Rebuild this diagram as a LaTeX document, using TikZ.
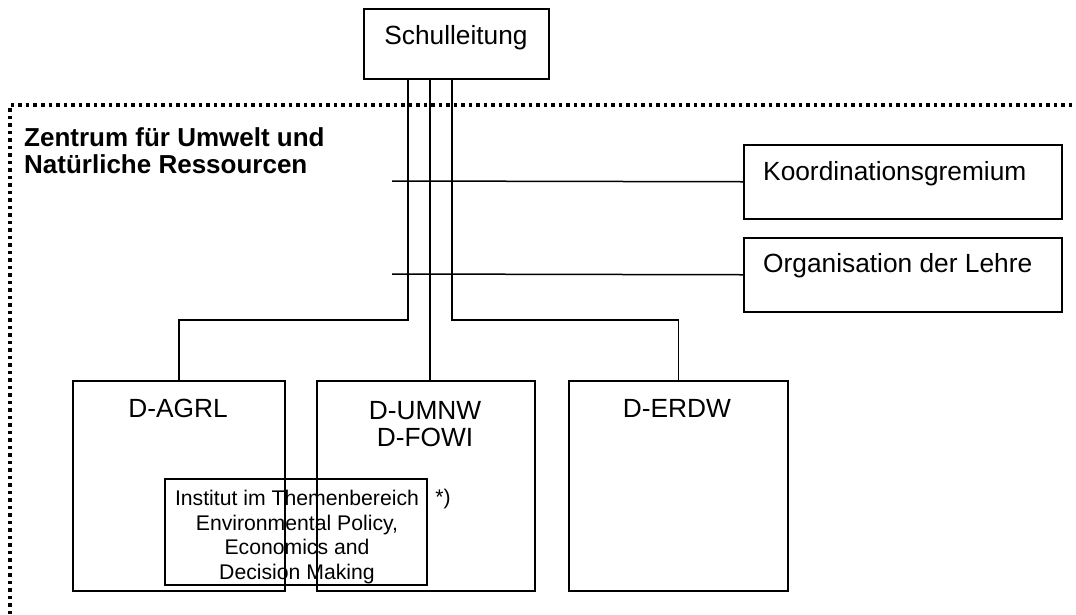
\documentclass[tikz,border=0pt]{standalone}
\usepackage{fontspec}
\setmainfont{Liberation Sans}
\begin{document}
\begin{tikzpicture}[x=1pt,y=-1pt,
  box/.style={draw=black,line width=1.5pt,inner sep=0pt,anchor=north west},
  conn/.style={draw=black,line width=1.5pt},
  lbl/.style={inner sep=0pt,font=\fontsize{26.3}{27}\selectfont},
  small/.style={inner sep=0pt,font=\fontsize{21.2}{24.6}\selectfont,align=center},
  border/.style={draw=black,line width=3.5pt,dash pattern=on 3.5pt off 4pt}]
\useasboundingbox (0,0) rectangle (1076,614);
% dotted frame
\draw[border] (10,614) -- (10,105) -- (1076,105);
% boxes
\node[box,minimum width=185pt,minimum height=70pt] (sl) at (363,8) {};
\node[box,minimum width=318pt,minimum height=74pt] (kg) at (743,144) {};
\node[box,minimum width=318pt,minimum height=74pt] (ol) at (743,237) {};
\node[box,minimum width=212pt,minimum height=210pt] (agrl) at (72,380) {};
\node[box,minimum width=218pt,minimum height=210pt] (umnw) at (316,380) {};
\node[box,minimum width=219pt,minimum height=210pt] (erdw) at (568,380) {};
\node[box,minimum width=262pt,minimum height=106pt] (inst) at (164,478) {};
% texts
\node[lbl] (tsl) at (456,38) {Schulleitung};
\node[lbl,anchor=west] (tkg) at (763,174) {Koordinationsgremium};
\node[lbl,anchor=west] (tol) at (763,266) {Organisation der Lehre};
\node[lbl] (tagrl) at (178,408) {D-AGRL};
\node[lbl,align=center] (tumnw) at (425,424) {D-UMNW\\D-FOWI};
\node[lbl] (terdw) at (677,408) {D-ERDW};
\node[lbl,font=\bfseries\fontsize{26}{27}\selectfont,align=left,anchor=north west] (tz) at (24,127) {Zentrum für Umwelt und\\Natürliche Ressourcen};
\node[small] (tinst) at (297,537) {Institut im Themenbereich\\Environmental Policy,\\Economics and\\Decision Making};
\node[small] (star) at (443,499) {*)};
% connectors
\coordinate (ja) at (408,320);
\coordinate (jb) at (430,320);
\coordinate (jc) at (452,320);
\draw[conn] (sl.south -| ja) -- (ja) -| (agrl.north);
\draw[conn] (sl.south -| jb) -- (umnw.north -| jb);
\draw[conn] (sl.south -| jc) -- (jc) -| (erdw.north);
\coordinate (hk) at (392,181);
\coordinate (ho) at (392,274);
\draw[conn] (hk) -- (kg.west);
\draw[conn] (ho) -- (ol.west);
\end{tikzpicture}
\end{document}
